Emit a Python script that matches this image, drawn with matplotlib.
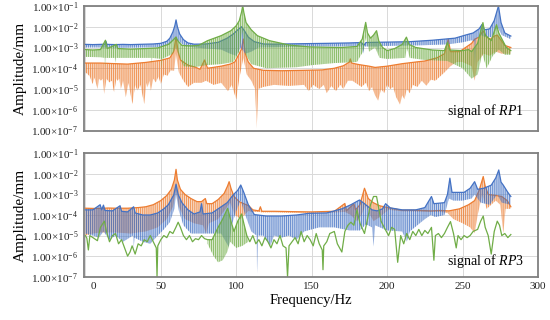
import numpy as np
import matplotlib
matplotlib.use('Agg')
import matplotlib.pyplot as plt
from matplotlib.colors import to_rgba
from matplotlib.transforms import ScaledTranslation

plt.rcParams['font.family'] = ['Liberation Serif', 'DejaVu Serif']
plt.rcParams['mathtext.fontset'] = 'custom'
plt.rcParams['mathtext.rm'] = 'Liberation Serif'
plt.rcParams['mathtext.it'] = 'Liberation Serif:italic'
plt.rcParams['hatch.linewidth'] = 0.6

# ---------------- data (frequency in Hz, amplitude given as log10 of mm) ----------------
# RP1 ---------------------------------------------------------------
rp1_blue_top_f = [0, 5, 10, 13, 13.6, 14.3, 20, 25, 30, 35, 40, 45, 50, 54, 56, 58, 59.3, 60.1, 61, 62.5, 65, 68, 72, 80, 88, 94, 98, 101, 103.5, 105.5, 108, 112, 118, 125, 140, 160, 175, 183, 184.5, 186, 200, 215, 230, 245, 252, 257, 261, 263, 264.5, 268, 271, 273.8, 275.5, 278, 282]
rp1_blue_top = [-2.85, -2.86, -2.85, -2.84, -2.70, -2.85, -2.86, -2.85, -2.86, -2.85, -2.84, -2.83, -2.80, -2.70, -2.55, -2.25, -1.95, -1.67, -2.0, -2.35, -2.62, -2.78, -2.84, -2.83, -2.75, -2.55, -2.35, -2.15, -2.0, -2.2, -2.5, -2.72, -2.83, -2.84, -2.82, -2.80, -2.78, -2.76, -2.9, -2.76, -2.74, -2.72, -2.65, -2.55, -2.40, -2.30, -2.1, -1.88, -2.15, -2.1, -1.7, -1.0, -1.8, -2.3, -2.45]
rp1_blue_low_f = [0, 10, 20, 40, 50, 56, 59, 62, 66, 80, 90, 96, 100, 103, 106, 110, 115, 130, 160, 183, 184, 185, 193.5, 194, 194.5, 220, 240, 250, 256, 257.8, 258.2, 258.8, 262, 265, 270, 273, 276, 282]
rp1_blue_low = [-3.0, -3.0, -3.02, -3.0, -2.98, -2.85, -2.6, -2.7, -2.95, -3.05, -3.1, -3.3, -3.4, -3.0, -3.3, -3.2, -3.0, -2.98, -2.95, -2.95, -3.3, -2.95, -2.95, -3.25, -2.93, -2.9, -2.85, -2.75, -2.65, -2.7, -3.9, -2.6, -2.4, -2.5, -2.5, -2.0, -2.4, -2.6]

rp1_orange_top_f = [0, 10, 20, 28, 40, 50, 56, 58.5, 60.1, 61.5, 63, 68, 73, 76, 79, 81, 90, 96, 99, 102, 103.5, 104.7, 106, 108, 111.5, 118, 130, 145, 157, 165, 171, 175, 175.6, 176.5, 181, 188, 192, 200, 210, 219, 225, 233, 238, 240.5, 242, 248, 252, 256, 258, 261, 263.5, 266, 268.5, 271, 273, 275, 278, 282]
rp1_orange_top = [-3.75, -3.75, -3.78, -3.8, -3.72, -3.62, -3.5, -3.2, -2.5, -3.2, -3.6, -3.85, -3.95, -4.05, -3.6, -4.0, -3.9, -3.8, -3.7, -3.3, -3.07, -2.59, -3.3, -3.7, -4.0, -4.1, -4.12, -4.1, -4.08, -4.0, -3.88, -3.7, -3.55, -3.75, -3.82, -3.9, -3.96, -3.9, -3.78, -3.7, -3.65, -3.5, -3.3, -2.6, -3.2, -3.2, -3.0, -2.8, -2.6, -2.5, -2.19, -2.5, -2.6, -2.45, -2.4, -2.6, -2.9, -3.0]
rp1_orange_low_f = [0, 1.5, 3, 4.8, 6, 8.1, 9, 10.3, 11.5, 12.5, 14, 15.8, 17.5, 19.1, 20.5, 21.3, 22.5, 23.5, 25, 26.8, 28.5, 31.2, 33, 34.5, 36.5, 39, 40.5, 41.2, 42.5, 43.4, 45, 46.7, 48.5, 50, 52, 54.4, 56.5, 58.8, 60, 62, 65, 68, 72, 77, 80, 85, 90, 94.5, 97, 100, 102, 104.7, 107, 110, 112.5, 113.6, 114.5, 118, 125, 135, 145, 148, 151, 155, 158, 160, 163, 166, 169, 171, 174, 177, 180, 183, 186, 188, 190, 192, 194, 196, 198, 200, 202, 204, 206, 207.5, 208.5, 210, 211.5, 213, 215, 217, 220, 223, 226, 229, 232, 238, 242, 246, 250, 256, 258, 260, 264, 268, 272, 276, 282]
rp1_orange_low = [-4.2, -4.28, -4.4, -4.76, -4.45, -5.0, -4.5, -4.6, -4.5, -5.24, -4.5, -4.68, -4.6, -5.16, -4.5, -4.6, -4.5, -5.0, -4.6, -5.4, -4.7, -5.72, -4.8, -5.08, -4.8, -5.72, -4.7, -4.92, -4.6, -5.08, -4.5, -4.68, -4.4, -4.76, -4.3, -4.36, -4.1, -4.12, -3.3, -4.2, -4.6, -4.9, -4.7, -4.7, -4.6, -4.8, -4.7, -5.1, -4.8, -5.5, -4.5, -3.5, -4.3, -4.6, -5.0, -6.9, -5.0, -4.9, -4.8, -4.85, -4.8, -5.1, -4.8, -5.0, -4.8, -5.2, -4.85, -5.1, -4.8, -5.0, -4.6, -4.6, -4.75, -4.9, -4.7, -5.1, -4.9, -5.3, -5.56, -5.0, -5.2, -4.8, -5.0, -4.9, -5.4, -5.6, -5.75, -5.3, -5.5, -5.0, -5.2, -4.8, -4.9, -4.6, -4.84, -4.55, -4.6, -4.2, -3.9, -3.7, -3.7, -3.9, -4.6, -3.7, -3.3, -3.4, -3.2, -3.3, -3.3]

rp1_green_top_f = [0, 5, 10, 13.3, 14.5, 20.5, 21.5, 30, 40, 48, 55, 58, 60, 61.5, 64, 70, 75, 81, 90, 96.5, 100, 102, 103.5, 104.3, 105, 106.5, 110, 114, 122, 135, 148, 160, 170, 180, 183.5, 185.8, 187, 189, 191, 193, 194.5, 197, 200, 205, 210, 212.8, 214.5, 219, 230, 238, 240, 241.5, 250, 254, 256, 260, 263.5, 265, 269, 272.5, 274, 279, 282]
rp1_green_top = [-3.10, -3.12, -3.10, -2.65, -3.05, -2.85, -3.05, -3.08, -3.05, -3.02, -2.85, -2.65, -2.5, -2.7, -2.9, -2.92, -2.9, -2.67, -2.43, -2.19, -1.95, -1.71, -1.3, -0.98, -1.3, -1.8, -2.15, -2.43, -2.67, -2.88, -2.97, -2.99, -3.0, -2.95, -2.6, -1.79, -2.3, -2.55, -2.4, -2.19, -2.7, -3.0, -3.15, -3.05, -2.85, -2.5, -2.85, -3.0, -3.12, -3.15, -2.75, -3.12, -3.15, -3.1, -3.2, -2.8, -1.8, -2.4, -2.67, -1.9, -2.3, -3.0, -3.15]
rp1_green_low_f = [0, 10, 12.8, 13, 13.3, 19.8, 20, 20.3, 30, 43.8, 44, 44.3, 50.5, 50.7, 51, 58, 60, 62, 65, 72, 80, 90, 98, 102, 104, 106, 110, 120, 140, 150, 165, 180, 184, 186, 188, 192, 195, 200, 212, 213, 215, 225, 240, 250, 256, 260, 263, 266, 270, 274, 278, 282]
rp1_green_low = [-3.45, -3.47, -3.5, -3.95, -3.5, -3.5, -3.75, -3.5, -3.5, -3.5, -3.75, -3.5, -3.55, -4.0, -3.55, -3.3, -3.0, -3.4, -3.9, -3.95, -3.85, -3.8, -3.7, -3.2, -2.2, -3.3, -3.8, -4.0, -3.95, -3.85, -3.75, -3.7, -3.2, -2.5, -3.2, -3.0, -3.5, -3.55, -3.5, -3.0, -3.5, -3.6, -3.65, -4.0, -4.5, -4.3, -3.3, -4.0, -3.4, -3.1, -3.35, -3.35]

# RP3 ---------------------------------------------------------------
rp3_orange_top_f = [0, 5, 10, 15, 20, 28, 35, 40, 45, 50, 54, 57, 59, 60.1, 61, 63, 66, 70, 74, 77, 79.5, 80.5, 84, 88, 92, 94.2, 95.3, 96.5, 98.5, 102, 105, 108.3, 111, 115, 116, 117, 125, 140, 150, 160, 165, 172, 173, 178, 179, 182, 185, 187.5, 190.8, 195, 201, 210, 220, 229, 235, 241, 248, 254, 258, 261, 263.7, 265, 267, 272, 276, 279.6, 282]
rp3_orange_top = [-3.67, -3.68, -3.68, -3.66, -3.67, -3.67, -3.64, -3.6, -3.5, -3.3, -3.05, -2.75, -2.3, -1.78, -2.3, -2.75, -3.0, -3.2, -3.35, -3.35, -3.2, -3.45, -3.45, -3.25, -2.95, -2.6, -2.38, -2.7, -3.1, -3.35, -3.45, -3.55, -3.75, -3.8, -3.6, -3.82, -3.82, -3.84, -3.85, -3.83, -3.82, -3.44, -3.8, -3.45, -3.75, -3.5, -2.7, -3.2, -3.4, -3.55, -3.65, -3.77, -3.77, -3.8, -3.78, -3.8, -3.7, -3.5, -3.3, -2.8, -2.13, -2.6, -3.0, -3.05, -3.1, -3.3, -3.6]
rp3_orange_low_f = [0, 5, 10, 20, 30, 40, 48, 54, 58, 60.1, 62, 66, 72, 78, 80, 82, 88, 94, 96, 99, 103, 108, 110, 115, 117, 125, 140, 150, 165, 172, 176, 180, 183, 186, 188, 191, 195, 201, 210, 229, 235, 240, 244, 250, 255, 258, 260, 263, 266, 272, 275, 277, 278.5, 282]
rp3_orange_low = [-5.0, -4.9, -4.85, -4.85, -4.9, -4.8, -4.6, -4.2, -3.6, -2.8, -3.6, -4.2, -4.4, -4.5, -4.9, -4.4, -4.2, -3.6, -3.4, -4.0, -4.2, -3.8, -3.85, -3.85, -3.87, -3.87, -3.89, -3.9, -3.88, -3.85, -4.0, -4.3, -4.0, -3.5, -3.9, -4.3, -4.1, -3.75, -3.82, -3.85, -3.85, -3.9, -4.2, -4.4, -4.6, -4.88, -4.0, -3.0, -3.7, -3.3, -3.5, -4.88, -3.7, -3.7]

rp3_blue_top_f = [0, 5, 9.8, 10.8, 12, 13, 18, 23, 24, 28, 32, 33, 38, 43, 48, 52, 55, 58.6, 60.1, 61.5, 64, 68, 72, 76, 77, 78, 84, 90, 94, 98, 101, 103, 105, 108, 112, 120, 130, 140, 148, 160, 170, 176, 181.7, 185, 190, 193.4, 197, 199, 202, 210, 219, 225, 229.4, 231, 238, 240, 241.6, 243, 251, 255, 258, 260, 264, 269, 272, 274, 275.5, 277, 280, 282]
rp3_blue_top = [-3.75, -3.75, -3.5, -3.75, -3.52, -3.78, -3.8, -3.55, -3.82, -3.85, -3.6, -3.9, -4.0, -4.0, -3.9, -3.7, -3.5, -3.02, -2.5, -3.0, -3.4, -3.75, -3.95, -3.85, -3.45, -3.95, -3.9, -3.6, -3.4, -3.02, -2.8, -2.54, -2.9, -3.5, -3.98, -4.05, -4.05, -4.0, -3.92, -3.9, -3.7, -3.5, -3.27, -3.45, -3.75, -3.8, -3.7, -3.45, -3.65, -3.75, -3.75, -3.64, -3.1, -3.45, -3.4, -3.0, -2.21, -2.9, -2.9, -2.7, -2.38, -2.75, -2.7, -2.55, -2.2, -1.81, -2.4, -2.55, -2.9, -3.1]
rp3_blue_low_f = [0, 5, 9, 12, 16, 20, 25, 31.5, 32, 32.5, 38, 43, 48, 52, 56, 59, 60.1, 62, 65, 70, 80, 90, 95, 97, 100, 103, 106, 110, 113.5, 113.8, 114.3, 118, 122.6, 125, 130, 135, 140, 145, 155, 165, 175, 182, 186, 190, 191, 192, 200, 210, 213, 215, 225, 229, 232, 238, 241, 244, 250, 256, 258, 262, 268, 273, 276, 282]
rp3_blue_low = [-4.9, -5.0, -5.1, -4.8, -5.2, -5.0, -5.3, -5.0, -5.7, -5.1, -5.3, -5.4, -5.0, -4.7, -4.35, -3.7, -3.0, -3.8, -4.5, -4.9, -4.9, -4.9, -5.55, -4.5, -3.8, -3.3, -4.0, -4.8, -5.0, -6.83, -5.0, -5.0, -5.5, -5.0, -5.1, -5.0, -5.2, -4.8, -4.6, -4.6, -4.75, -4.75, -4.45, -4.6, -5.53, -4.5, -4.75, -4.8, -5.3, -4.8, -4.2, -4.0, -4.1, -4.0, -3.2, -3.3, -3.3, -3.2, -3.0, -3.4, -3.5, -3.0, -3.4, -3.5]

rp3_green_f = [0, 1, 2, 3, 5, 8, 10, 12.6, 14, 16, 18, 20, 22, 24, 26, 28, 29.6, 31, 33, 35, 37, 39, 41, 43, 45, 47, 47.5, 48, 50, 52, 54, 56, 58, 60, 61.5, 63, 65, 67, 69, 71, 73, 75, 77, 79, 81, 84, 88, 91, 94.3, 96.5, 98.5, 101, 103.6, 105, 107, 109, 111, 113, 115, 117, 119, 121, 123, 125, 127, 129, 131, 133, 134, 135, 137, 139, 141, 143, 145, 147, 149, 151, 153, 155, 157, 157.5, 158, 160, 162, 165, 167, 170, 172, 174, 176, 178, 180, 182, 185, 187, 189, 191, 193, 194.5, 196, 198, 201, 203, 205, 207, 209, 211, 213, 215, 217, 219, 221, 223, 225, 227, 229.4, 231, 232, 234, 236, 238, 240, 242, 244, 245.8, 247, 249, 251, 253, 255, 257, 260, 262, 263.7, 265, 267, 269, 271, 273, 274.5, 276, 278, 280, 282]
rp3_green = [-5.0, -5.13, -5.7, -5.0, -5.1, -5.25, -4.6, -4.3, -4.8, -5.3, -5.0, -4.9, -5.4, -5.2, -5.6, -6.0, -5.8, -5.5, -5.9, -5.4, -5.5, -5.2, -5.3, -5.0, -5.3, -5.6, -7.0, -5.5, -5.2, -5.0, -5.1, -4.8, -4.9, -4.6, -4.35, -4.6, -5.0, -5.2, -5.0, -5.3, -5.15, -5.2, -5.0, -5.15, -5.2, -5.2, -4.6, -4.2, -3.67, -4.3, -4.8, -4.3, -3.95, -4.4, -5.0, -5.3, -5.0, -5.4, -5.2, -5.5, -5.1, -5.3, -5.6, -5.2, -5.4, -5.0, -5.5, -5.6, -7.0, -5.5, -5.3, -5.1, -5.4, -4.8, -5.3, -5.0, -5.2, -5.5, -4.9, -5.4, -5.7, -6.66, -5.5, -5.3, -4.9, -4.8, -5.4, -5.8, -4.8, -4.5, -4.35, -4.5, -3.75, -4.4, -4.9, -4.2, -3.5, -3.1, -3.1, -3.7, -4.3, -4.6, -5.0, -4.6, -4.7, -6.3, -5.0, -5.4, -4.9, -5.2, -4.8, -5.0, -4.7, -5.0, -4.75, -4.9, -4.6, -6.2, -5.0, -4.9, -5.1, -4.9, -4.6, -4.32, -4.9, -5.6, -5.0, -5.2, -5.0, -5.1, -5.0, -4.8, -4.7, -4.3, -4.05, -4.6, -5.0, -5.9, -4.8, -4.3, -4.5, -5.0, -4.9, -5.1, -4.95]
# lower edge of the comb seen under the green RP3 trace around 81-108 Hz
rp3_green_comb_f = [81, 85, 88, 91, 94, 96, 100, 104, 108]
rp3_green_comb_low = [-5.4, -6.0, -6.3, -6.2, -5.8, -5.3, -5.6, -5.5, -5.3]

y_ticks = [1e-7, 1e-6, 1e-5, 1e-4, 1e-3, 1e-2, 1e-1]
y_ticklabels = [r'$1.00{\times}10^{-%d}$' % k for k in [7, 6, 5, 4, 3, 2, 1]]
x_ticks = [0, 50, 100, 150, 200, 250, 300]

BLUE, ORANGE, GREEN = '#4472C4', '#ED7D31', '#70AD47'
HATCH = '|' * 8

fig = plt.figure(figsize=(5.5, 3.2), dpi=100)
ax1 = fig.add_axes([84/550, 1-130.5/320, 454/550, 124.5/320])
ax2 = fig.add_axes([84/550, 1-276.7/320, 454/550, 123.4/320])


def comb(ax, xs, ys, color, z):
    ax.fill(xs, ys, facecolor=to_rgba(color, 0.28), edgecolor=to_rgba(color, 0.85),
            hatch=HATCH, lw=0, zorder=z)


def band(ax, ft, lt, fb, lb, color, z):
    ft, lt, fb, lb = map(np.asarray, (ft, lt, fb, lb))
    xs = np.concatenate([ft, fb[::-1]])
    ys = 10.0 ** np.concatenate([lt, lb[::-1]])
    comb(ax, xs, ys, color, z)
    ax.plot(ft, 10.0 ** lt, color=color, lw=0.9, zorder=z + 0.1)


band(ax1, rp1_orange_top_f, rp1_orange_top, rp1_orange_low_f, rp1_orange_low, ORANGE, 2)
band(ax1, rp1_blue_top_f, rp1_blue_top, rp1_blue_low_f, rp1_blue_low, BLUE, 3)
band(ax1, rp1_green_top_f, rp1_green_top, rp1_green_low_f, rp1_green_low, GREEN, 4)

band(ax2, rp3_orange_top_f, rp3_orange_top, rp3_orange_low_f, rp3_orange_low, ORANGE, 2)
band(ax2, rp3_blue_top_f, rp3_blue_top, rp3_blue_low_f, rp3_blue_low, BLUE, 3)
gf = np.asarray(rp3_green_f)
gl = np.asarray(rp3_green)
sel = (gf >= rp3_green_comb_f[0]) & (gf <= rp3_green_comb_f[-1])
comb(ax2, np.concatenate([gf[sel], rp3_green_comb_f[::-1]]),
     10.0 ** np.concatenate([gl[sel], rp3_green_comb_low[::-1]]), GREEN, 4)
ax2.plot(gf, 10.0 ** gl, color=GREEN, lw=0.9, zorder=4.1)

for ax in (ax1, ax2):
    ax.set_yscale('log')
    ax.set_ylim(1e-7, 1e-1)
    ax.set_xlim(-0.9, 300)
    ax.set_yticks(y_ticks)
    ax.set_yticklabels(y_ticklabels)
    ax.yaxis.set_minor_locator(plt.NullLocator())
    ax.set_xticks(x_ticks)
    ax.grid(True, color='#d9d9d9', lw=0.7, zorder=0)
    ax.set_axisbelow(True)
    ax.tick_params(length=0, labelsize=8, pad=4, colors='#222222')
    for s in ax.spines.values():
        s.set_color('#808080')
        s.set_linewidth(1.3)
        s.set_zorder(10)
    ax.set_ylabel('Amplitude/mm', fontsize=11, labelpad=3)

ax1.tick_params(labelbottom=False)
lbl0 = ax2.get_xticklabels()[0]
lbl0.set_transform(lbl0.get_transform() + ScaledTranslation(8/100, 0, fig.dpi_scale_trans))
ax2.set_xlabel('Frequency/Hz', fontsize=10.5, labelpad=2)

ax1.text(0.968, 0.155, r'signal of $\it{RP}$1', transform=ax1.transAxes,
         ha='right', va='center', fontsize=10, zorder=12)
ax2.text(0.968, 0.125, r'signal of $\it{RP}$3', transform=ax2.transAxes,
         ha='right', va='center', fontsize=10, zorder=12)

fig.savefig('out.png', dpi=100)
